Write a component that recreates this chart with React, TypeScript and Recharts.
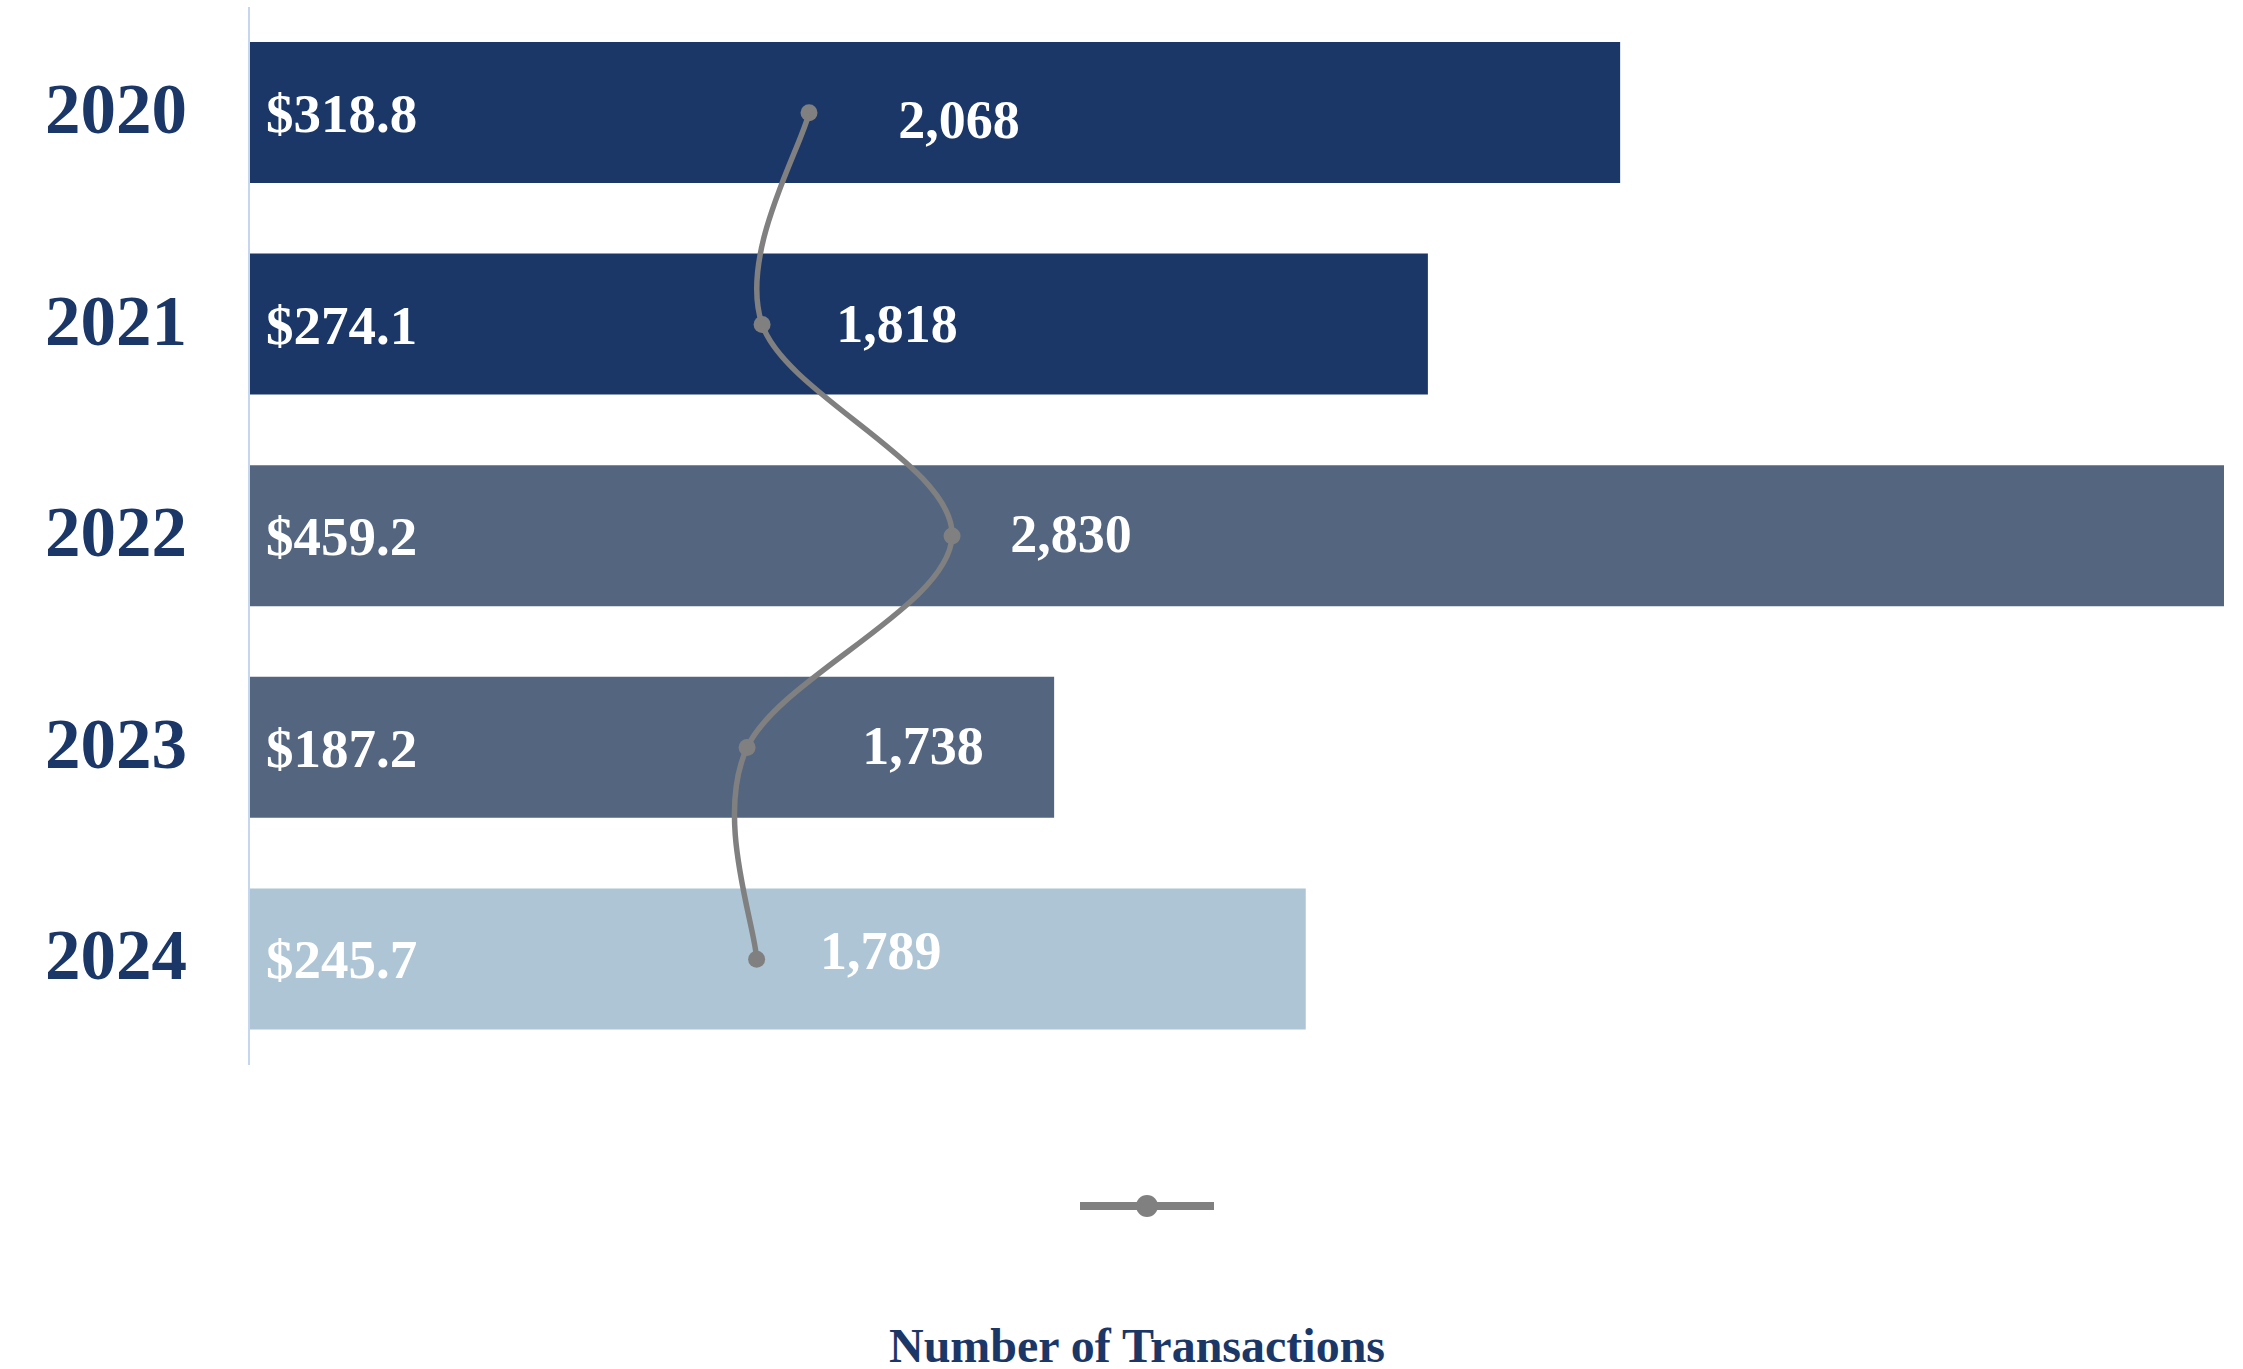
import React from 'react';
import {
  ComposedChart,
  Bar,
  Line,
  XAxis,
  YAxis,
  Cell,
  LabelList,
  Legend,
} from 'recharts';

// ── Data ──────────────────────────────────────────────────────────────────────

const years = ['2020', '2021', '2022', '2023', '2024'];
const dealValue = [318.8, 274.1, 459.2, 187.2, 245.7]; // $ millions
const transactions = [2068, 1818, 2830, 1738, 1789];

const data = years.map((year, i) => ({
  year,
  amt: dealValue[i],
  tx: transactions[i],
}));

// ── Styles ────────────────────────────────────────────────────────────────────

const NAVY = '#1b3767';
const barColors = ['#1b3767', '#1b3767', '#546580', '#546580', '#aec5d5'];
const LINE_GREY = '#808080';
const SERIF = '"Liberation Serif", "Times New Roman", serif';

// label nudges (px) for the transaction labels, relative to each point
const txLabelShift = [150, 135, 119, 176, 124];
const txLabelLift = [6, -2, -3, -3, -10];

const W = 2243;
const H = 1369;
const LEGEND_H = 304;

// Catmull-Rom style smoothing (spreadsheet "smoothed line" look)
function smoothCurve(ctx: any) {
  let pts: [number, number][] = [];
  return {
    areaStart() {},
    areaEnd() {},
    lineStart() {
      pts = [];
    },
    point(x: number, y: number) {
      pts.push([+x, +y]);
    },
    lineEnd() {
      if (!pts.length) return;
      ctx.moveTo(pts[0][0], pts[0][1]);
      for (let i = 0; i < pts.length - 1; i++) {
        const p0 = pts[Math.max(0, i - 1)];
        const p1 = pts[i];
        const p2 = pts[i + 1];
        const p3 = pts[Math.min(pts.length - 1, i + 2)];
        ctx.bezierCurveTo(
          p1[0] + (p2[0] - p0[0]) / 6,
          p1[1] + (p2[1] - p0[1]) / 6,
          p2[0] - (p3[0] - p1[0]) / 6,
          p2[1] - (p3[1] - p1[1]) / 6,
          p2[0],
          p2[1],
        );
      }
    },
  };
}

function TxLabel(props: any) {
  const { x, y, value, index } = props;
  if (x == null || y == null) return null;
  return (
    <text
      x={x + (txLabelShift[index] ?? 130)}
      y={y + (txLabelLift[index] ?? 0)}
      dy="0.36em"
      textAnchor="middle"
      fill="#ffffff"
      fontFamily={SERIF}
      fontWeight={700}
      fontSize={54}
    >
      {Number(value).toLocaleString('en-US')}
    </text>
  );
}

function LegendBox() {
  return (
    <div style={{ position: 'relative', width: W, height: LEGEND_H }}>
      <svg
        width={134}
        height={24}
        style={{ position: 'absolute', left: 1080, top: 129 }}
      >
        <line x1={0} y1={12} x2={134} y2={12} stroke={LINE_GREY} strokeWidth={8} />
        <circle cx={67} cy={12} r={11} fill={LINE_GREY} />
      </svg>
      <div
        style={{
          position: 'absolute',
          left: 0,
          top: 257,
          width: 2274,
          textAlign: 'center',
          fontFamily: SERIF,
          fontWeight: 700,
          fontSize: 48,
          lineHeight: 1,
          color: NAVY,
        }}
      >
        Number of Transactions
      </div>
    </div>
  );
}

export default function App() {
  return (
    <div style={{ position: 'absolute', left: 0, top: 0, width: W, height: H, background: '#fff' }}>
      <ComposedChart
        width={W}
        height={H}
        data={data}
        layout="vertical"
        margin={{ top: 7, right: 19, bottom: 0, left: 0 }}
        barSize={141}
      >
        <XAxis xAxisId="amt" type="number" domain={[0, 'dataMax']} hide />
        <XAxis xAxisId="tx" type="number" domain={[-915, 9605]} hide />
        <YAxis
          type="category"
          dataKey="year"
          width={249}
          tickLine={false}
          tickSize={0}
          tickMargin={62}
          axisLine={{ stroke: '#c5d7ef', strokeWidth: 2 }}
          tick={{ fill: NAVY, fontSize: 71, fontWeight: 700, fontFamily: SERIF, dy: -5 }}
        />
        <Bar xAxisId="amt" dataKey="amt" isAnimationActive={false} legendType="none">
          {data.map((d, i) => (
            <Cell key={d.year} fill={barColors[i]} />
          ))}
          <LabelList
            dataKey="amt"
            position="insideLeft"
            offset={17}
            formatter={(v: any) => `$${Number(v).toFixed(1)}`}
            fill="#ffffff"
            fontFamily={SERIF}
            fontWeight={700}
            fontSize={55}
          />
        </Bar>
        <Line
          xAxisId="tx"
          dataKey="tx"
          type={smoothCurve as any}
          stroke={LINE_GREY}
          strokeWidth={5.5}
          dot={{ r: 8.5, fill: LINE_GREY, stroke: 'none' }}
          activeDot={false}
          isAnimationActive={false}
        >
          <LabelList dataKey="tx" content={TxLabel} />
        </Line>
        <Legend
          verticalAlign="bottom"
          height={LEGEND_H}
          wrapperStyle={{ left: 0, width: W }}
          content={() => <LegendBox />}
        />
      </ComposedChart>
    </div>
  );
}
